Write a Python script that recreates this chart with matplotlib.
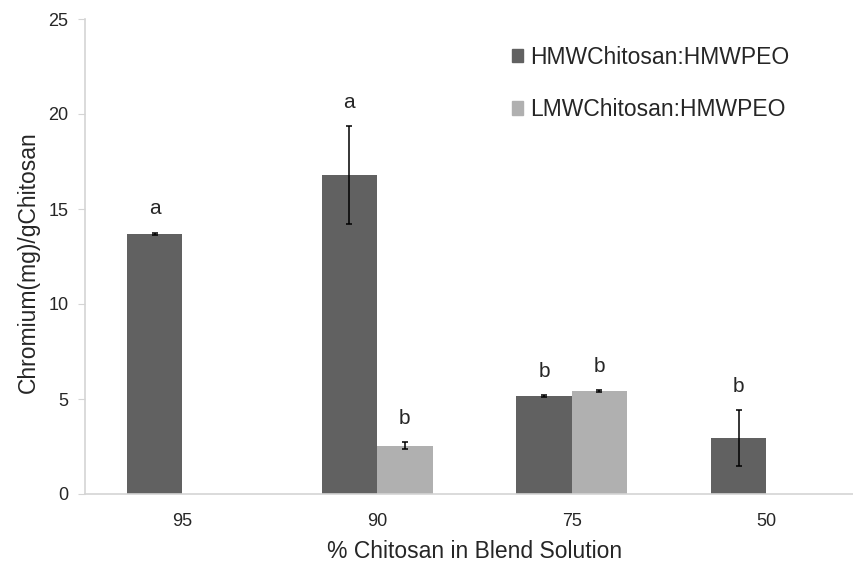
import matplotlib
matplotlib.use("Agg")
import matplotlib.pyplot as plt
import numpy as np
from matplotlib.patches import Patch

plt.rcParams['font.family'] = ['Liberation Sans', 'DejaVu Sans']

categories = ["95", "90", "75", "50"]
series_names = ["HMWChitosan:HMWPEO", "LMWChitosan:HMWPEO"]
hmw_values = [13.7, 16.8, 5.17, 2.95]
hmw_errors = [0.05, 2.58, 0.05, 1.45]
hmw_letters = ["a", "a", "b", "b"]
lmw_values = [np.nan, 2.55, 5.4, np.nan]
lmw_errors = [np.nan, 0.2, 0.05, np.nan]
lmw_letters = [None, "b", "b", None]

hmw_color = "#616161"
lmw_color = "#b0b0b0"
axis_color = "#d4d4d4"
text_color = "#262626"

W, H = 854, 564
fig = plt.figure(figsize=(W / 100, H / 100), dpi=100)
left, right, bottom, top = 85, 853, 494, 19
ax = fig.add_axes([left / W, 1 - bottom / H, (right - left) / W, (bottom - top) / H])

cat_px = 194.7
x = np.arange(len(categories))
bw = 0.285

err_style = dict(ecolor="black", elinewidth=1.1, capsize=2.5, capthick=1.1)
ax.bar(x - bw / 2, hmw_values, bw, color=hmw_color, yerr=hmw_errors, error_kw=err_style)
ax.bar(x + bw / 2, lmw_values, bw, color=lmw_color, yerr=lmw_errors, error_kw=err_style)

for xi, v, e, t in zip(x, hmw_values, hmw_errors, hmw_letters):
    if t:
        ax.text(xi - bw / 2, v + e + 1.25, t, ha="center", va="center",
                fontsize=15, color=text_color)
for xi, v, e, t in zip(x, lmw_values, lmw_errors, lmw_letters):
    if t:
        ax.text(xi + bw / 2, v + e + 1.25, t, ha="center", va="center",
                fontsize=15, color=text_color)

ax.set_xlim(-0.5, -0.5 + (right - left) / cat_px)
ax.set_ylim(0, 25)
ax.set_yticks([0, 5, 10, 15, 20, 25])
ax.set_xticks(x)
ax.set_xticklabels(categories)

for s in ["top", "right"]:
    ax.spines[s].set_visible(False)
for s in ["left", "bottom"]:
    ax.spines[s].set_color(axis_color)
    ax.spines[s].set_linewidth(1.2)

ax.tick_params(axis="y", length=5, color=axis_color, labelsize=13,
               labelcolor=text_color, pad=7)
ax.tick_params(axis="x", length=0, labelsize=13, labelcolor=text_color, pad=14)

fig.text(28 / W, 1 - 262 / H, "Chromium(mg)/gChitosan", rotation=90,
         ha="center", va="center", fontsize=16.5, color=text_color)
fig.text(475 / W, 1 - 551 / H, "% Chitosan in Blend Solution",
         ha="center", va="center", fontsize=16.5, color=text_color)

handles = [Patch(color=hmw_color), Patch(color=lmw_color)]
fig.legend(handles, series_names, loc="upper left",
           bbox_to_anchor=(491 / W, 1 - 25 / H), frameon=False,
           fontsize=16.5, handlelength=0.5, handleheight=0.55,
           handletextpad=0.3, labelspacing=1.3, labelcolor=text_color)

fig.savefig("out.png", dpi=100)
